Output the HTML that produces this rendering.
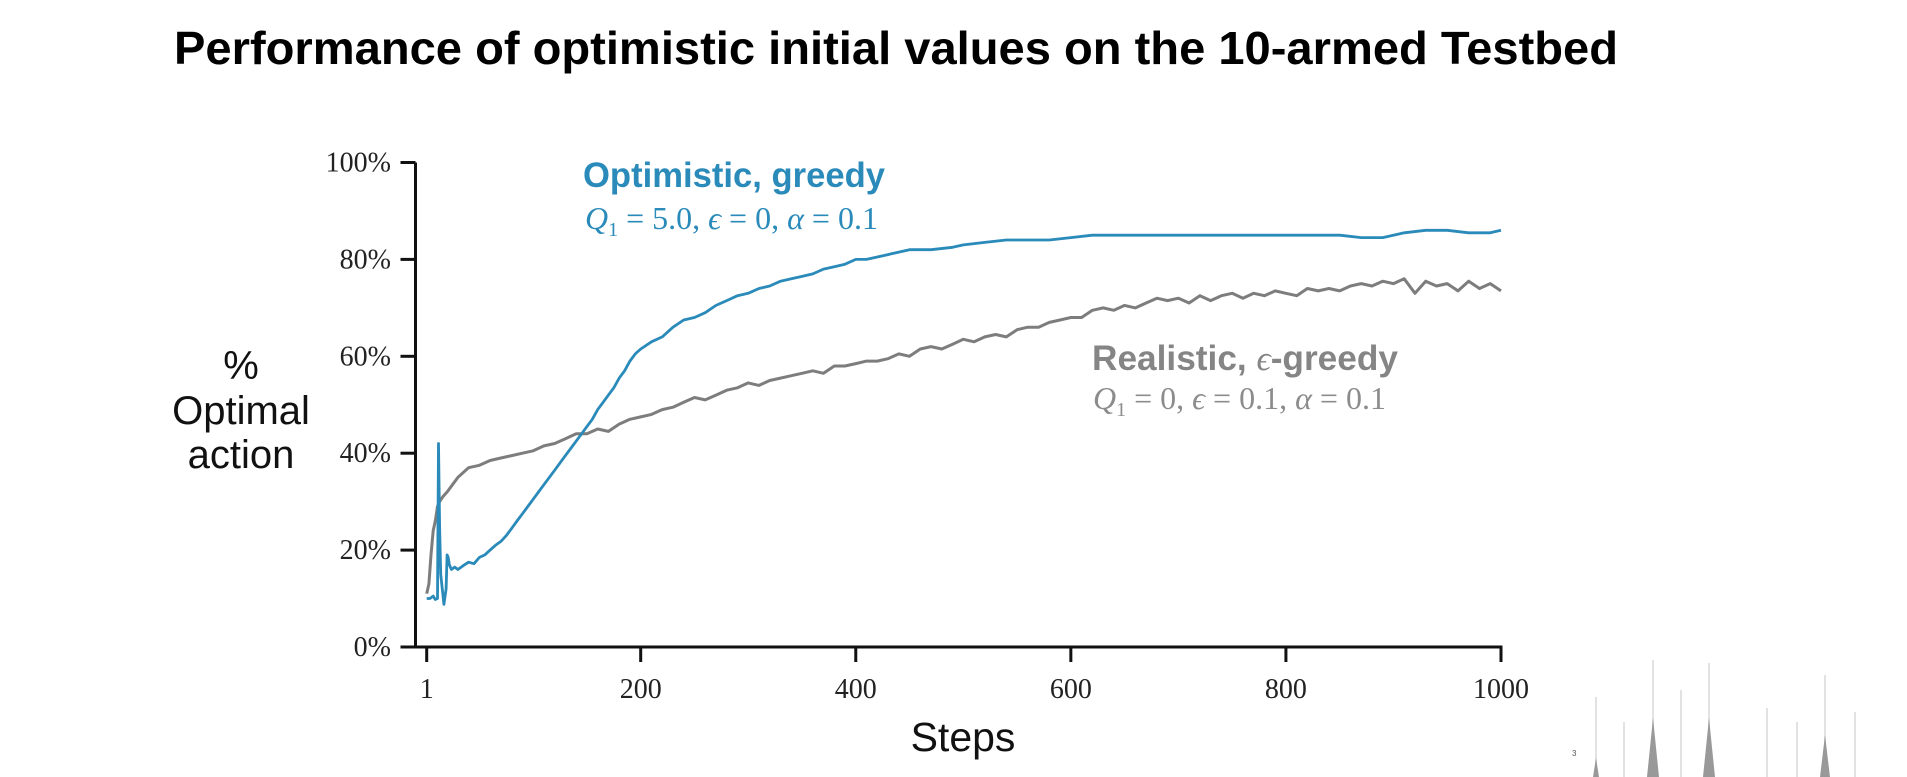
<!DOCTYPE html>
<html><head><meta charset="utf-8">
<style>
html,body{margin:0;padding:0;background:#fff;}
svg{display:block;}
</style></head>
<body>
<svg id="chart" width="1907" height="777" viewBox="0 0 1907 777" xmlns="http://www.w3.org/2000/svg">
<rect width="1907" height="777" fill="#fff"/>
<text x="174" y="64" font-family="Liberation Sans, sans-serif" font-weight="bold" font-size="46" fill="#000" textLength="1444" lengthAdjust="spacingAndGlyphs">Performance of optimistic initial values on the 10-armed Testbed</text>
<g font-family="Liberation Sans, sans-serif" font-size="40" fill="#111" text-anchor="middle">
<text x="241" y="379">%</text><text x="241" y="424">Optimal</text><text x="241" y="468">action</text>
</g>
<text x="963" y="751" font-family="Liberation Sans, sans-serif" font-size="41" fill="#111" text-anchor="middle">Steps</text>
<g id="axes"></g>
<g id="series"></g>
<text x="583" y="187" font-family="Liberation Sans, sans-serif" font-weight="bold" font-size="35" fill="#2a8ab9" textLength="302" lengthAdjust="spacingAndGlyphs">Optimistic, greedy</text>
<text x="585" y="229" font-family="Liberation Serif, serif" font-size="32" fill="#2a8ab9"><tspan font-style="italic">Q</tspan><tspan font-size="20" dy="7">1</tspan><tspan dy="-7"> = 5.0, </tspan><tspan font-style="italic">ϵ</tspan> = 0, <tspan font-style="italic">α</tspan> = 0.1</text>
<text x="1092" y="370" font-family="Liberation Sans, sans-serif" font-weight="bold" font-size="35" fill="#858585" textLength="306" lengthAdjust="spacingAndGlyphs">Realistic, <tspan font-family="Liberation Serif, serif" font-weight="normal" font-style="italic">ϵ</tspan>-greedy</text>
<text x="1093" y="409" font-family="Liberation Serif, serif" font-size="32" fill="#8c8c8c"><tspan font-style="italic">Q</tspan><tspan font-size="20" dy="7">1</tspan><tspan dy="-7"> = 0, </tspan><tspan font-style="italic">ϵ</tspan> = 0.1, <tspan font-style="italic">α</tspan> = 0.1</text>
<g fill="#999" stroke="#e2e2e2" stroke-width="2">
<line x1="1596" y1="697" x2="1596" y2="777"/><line x1="1624" y1="722" x2="1624" y2="777"/>
<line x1="1653" y1="660" x2="1653" y2="777"/><line x1="1681" y1="690" x2="1681" y2="777"/>
<line x1="1709" y1="663" x2="1709" y2="777"/><line x1="1767" y1="708" x2="1767" y2="777"/>
<line x1="1797" y1="722" x2="1797" y2="777"/><line x1="1825" y1="675" x2="1825" y2="777"/>
<line x1="1855" y1="712" x2="1855" y2="777"/>
<polygon points="1647,777 1653,718 1659,777" stroke="none"/>
<polygon points="1703,777 1709,718 1715,777" stroke="none"/>
<polygon points="1820,777 1825,735 1830,777" stroke="none"/>
<polygon points="1593,777 1596,758 1599,777" stroke="none"/>
<text x="1572" y="756" font-size="8" fill="#555" stroke="none" font-family="Liberation Sans, sans-serif">3</text>
</g>
</svg>
<script>
const xTicks = [1, 200, 400, 600, 800, 1000];
const yTicks = [0, 20, 40, 60, 80, 100];
const yTickLabels = ["0%", "20%", "40%", "60%", "80%", "100%"];
const blueSteps = [1,4,7,9,11,12,13,14,16,17,19,20,21,22,24,27,30,35,40,45,50,55,60,65,70,75,80,85,90,95,100,105,110,115,120,125,130,135,140,145,150,155,160,165,170,175,180,185,190,195,200,210,220,230,240,250,260,270,280,290,300,310,320,330,340,350,360,370,380,390,400,410,420,430,440,450,470,490,500,520,540,560,580,600,620,650,680,700,740,780,820,850,870,890,910,930,950,970,990,1000];
const blueValues = [10,10,10.5,9.8,10,42,25,15,11,8.8,12,19,18.5,17,16,16.5,16,16.8,17.5,17.2,18.5,19,20,21,21.8,23,24.5,26,27.5,29,30.5,32,33.5,35,36.5,38,39.5,41,42.5,44,45.5,47,49,50.5,52,53.5,55.5,57,59,60.5,61.5,63,64,66,67.5,68,69,70.5,71.5,72.5,73,74,74.5,75.5,76,76.5,77,78,78.5,79,80,80,80.5,81,81.5,82,82,82.5,83,83.5,84,84,84,84.5,85,85,85,85,85,85,85,85,84.5,84.5,85.5,86,86,85.5,85.5,86];
const graySteps = [1,3,5,7,9,11,13,16,20,25,30,40,50,60,70,80,90,100,110,120,130,140,150,160,170,180,190,200,210,220,230,240,250,260,270,280,290,300,310,320,330,340,350,360,370,380,390,400,410,420,430,440,450,460,470,480,490,500,510,520,530,540,550,560,570,580,590,600,610,620,630,640,650,660,670,680,690,700,710,720,730,740,750,760,770,780,790,800,810,820,830,840,850,860,870,880,890,900,910,920,930,940,950,960,970,980,990,1000];
const grayValues = [11,13,19,24,26,29,30,31,32,33.5,35,37,37.5,38.5,39,39.5,40,40.5,41.5,42,43,44,44,45,44.5,46,47,47.5,48,49,49.5,50.5,51.5,51,52,53,53.5,54.5,54,55,55.5,56,56.5,57,56.5,58,58,58.5,59,59,59.5,60.5,60,61.5,62,61.5,62.5,63.5,63,64,64.5,64,65.5,66,66,67,67.5,68,68,69.5,70,69.5,70.5,70,71,72,71.5,72,71,72.5,71.5,72.5,73,72,73,72.5,73.5,73,72.5,74,73.5,74,73.5,74.5,75,74.5,75.5,75,76,73,75.5,74.5,75,73.5,75.5,74,75,73.5];

const X0 = 426.7, X1 = 1501, Y0 = 647, Y1 = 162.5, AXL = 415.5;
function xs(s){ return X0 + (s - 1) * (X1 - X0) / 999; }
function ys(v){ return Y0 - v * (Y0 - Y1) / 100; }
const NS = "http://www.w3.org/2000/svg";
const axes = document.getElementById('axes');
const series = document.getElementById('series');
function mk(tag, attrs, parent){ const e = document.createElementNS(NS, tag); for (const k in attrs) e.setAttribute(k, attrs[k]); parent.appendChild(e); return e; }

const yAxis = mk('line', {x1: AXL, y1: Y1, x2: AXL, y2: Y0 + 1.5, stroke: '#111', 'stroke-width': 3}, axes);


const xAxis = mk('line', {x1: AXL - 1.5, y1: Y0, x2: X1 + 1.5, y2: Y0, stroke: '#111', 'stroke-width': 3}, axes);



yTicks.forEach((v, i) => {
  const t = mk('line', {x1: AXL - 15, y1: ys(v), x2: AXL, y2: ys(v), stroke: '#111', 'stroke-width': 3}, axes);
  
  
  const l = mk('text', {x: 391, y: ys(v) + 9, 'text-anchor': 'end', 'font-family': 'Liberation Serif, serif', 'font-size': 28, fill: '#222'}, axes);
  l.textContent = yTickLabels[i];
  
  
});
xTicks.forEach(s => {
  const t = mk('line', {x1: xs(s), y1: Y0, x2: xs(s), y2: Y0 + 15, stroke: '#111', 'stroke-width': 3}, axes);
  
  
  const l = mk('text', {x: xs(s), y: 698, 'text-anchor': 'middle', 'font-family': 'Liberation Serif, serif', 'font-size': 28, fill: '#222'}, axes);
  l.textContent = String(s);
  
  
});

function pathOf(st, vals){ return st.map((s, i) => (i ? 'L' : 'M') + xs(s).toFixed(1) + ',' + ys(vals[i]).toFixed(1)).join(' '); }
const gray = mk('path', {d: pathOf(graySteps, grayValues), fill: 'none', stroke: '#7d7d7d', 'stroke-width': 3, 'stroke-linejoin': 'round'}, series);


const blue = mk('path', {d: pathOf(blueSteps, blueValues), fill: 'none', stroke: '#2a8ab9', 'stroke-width': 2.8, 'stroke-linejoin': 'round'}, series);


</script>
</body></html>
